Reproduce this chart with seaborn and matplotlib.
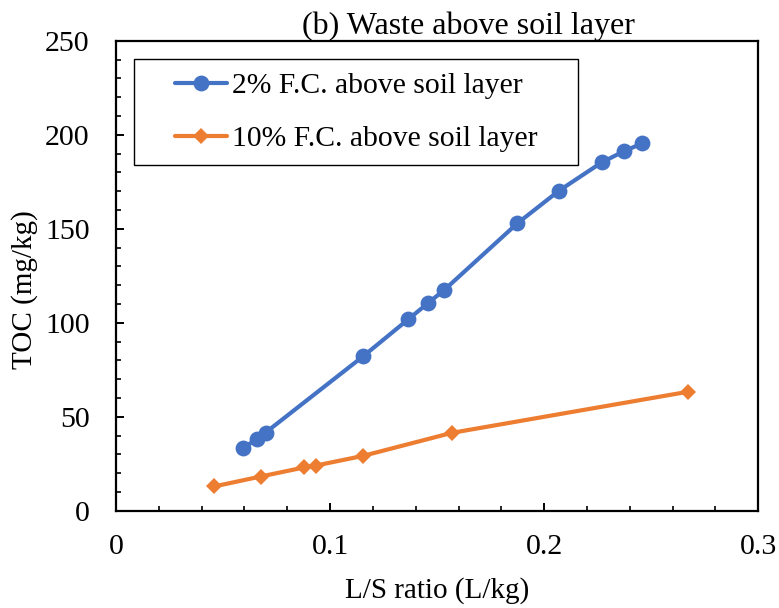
import numpy as np
import pandas as pd
import matplotlib
matplotlib.use("Agg")
import matplotlib.pyplot as plt
from matplotlib.ticker import MultipleLocator
from matplotlib.patches import Rectangle
import seaborn as sns

# L/S ratio (L/kg) and TOC (mg/kg) for each field-capacity case
ls_2pct = [0.0595, 0.0660, 0.0699, 0.1155, 0.1365, 0.1459, 0.1533,
           0.1874, 0.2069, 0.2269, 0.2374, 0.2458]
toc_2pct = [33.5, 38.2, 41.6, 82.2, 101.8, 110.6, 117.4,
            152.8, 170.2, 185.3, 191.3, 195.4]

ls_10pct = [0.0458, 0.0676, 0.0878, 0.0933, 0.1155, 0.1568, 0.2673]
toc_10pct = [12.9, 18.2, 23.0, 24.0, 29.2, 41.4, 63.3]

series_names = ["2% F.C. above soil layer", "10% F.C. above soil layer"]
series_colors = ["#4472C4", "#ED7D31"]

x_ticks = [0, 0.1, 0.2, 0.3]
x_tick_labels = ["0", "0.1", "0.2", "0.3"]
y_ticks = [0, 50, 100, 150, 200, 250]

df2 = pd.DataFrame({"ls": ls_2pct, "toc": toc_2pct, "case": series_names[0]})
df10 = pd.DataFrame({"ls": ls_10pct, "toc": toc_10pct, "case": series_names[1]})

sns.set_theme(style="ticks")
plt.rcParams["font.family"] = ["Liberation Serif", "DejaVu Serif"]
plt.rcParams["text.color"] = "black"
plt.rcParams["axes.labelcolor"] = "black"

fig = plt.figure(figsize=(7.79, 6.08), dpi=100)
ax = fig.add_axes([0.1489, 0.160, 0.8245, 0.773])

sns.lineplot(data=df2, x="ls", y="toc", ax=ax, color=series_colors[0],
             marker="o", markersize=11.4, markeredgewidth=0, linewidth=3.0,
             sort=False, label=series_names[0])
sns.lineplot(data=df10, x="ls", y="toc", ax=ax, color=series_colors[1],
             marker="D", markersize=8.2, markeredgewidth=0, linewidth=3.0,
             sort=False, label=series_names[1])

ax.set_xlim(0, 0.3)
ax.set_ylim(0, 250)
ax.set_xticks(x_ticks)
ax.set_xticklabels(x_tick_labels)
ax.set_yticks(y_ticks)
ax.xaxis.set_minor_locator(MultipleLocator(0.02))
ax.yaxis.set_minor_locator(MultipleLocator(10))

for side in ["left", "right", "top", "bottom"]:
    ax.spines[side].set_visible(True)
    ax.spines[side].set_linewidth(1.6)
    ax.spines[side].set_color("black")

ax.tick_params(axis="both", which="major", direction="in", length=6, width=1.4,
               labelsize=21.5, colors="black", pad=19)
ax.tick_params(axis="x", which="major", pad=17)
ax.tick_params(axis="both", which="minor", direction="in", length=3.6, width=1.2,
               colors="black")

ax.set_xlabel("L/S ratio (L/kg)", fontsize=21, color="black", labelpad=12)
ax.set_ylabel("TOC (mg/kg)", fontsize=21, color="black")
ax.yaxis.set_label_coords(-0.121, 0.47)

fig.text(468 / 779, 1 - 34 / 608, "(b) Waste above soil layer", fontsize=23,
         ha="center", va="baseline", color="black")

# legend frame drawn as a plain box, entries placed inside it
ax.add_patch(Rectangle((0.028, 0.736), 0.691, 0.225, transform=ax.transAxes,
                       fill=False, edgecolor="black", linewidth=1.0, zorder=5))
leg = ax.legend(loc="center left", bbox_to_anchor=(0.0919, 0.8474), frameon=False,
                fontsize=21.3, handlelength=1.76, handletextpad=0.17,
                labelspacing=0.89, borderpad=0.0, borderaxespad=0.0)
for line in leg.get_lines():
    line.set_linewidth(3.0)
for text in leg.get_texts():
    text.set_color("black")

ax.grid(False)
fig.savefig("out.png", dpi=100)
